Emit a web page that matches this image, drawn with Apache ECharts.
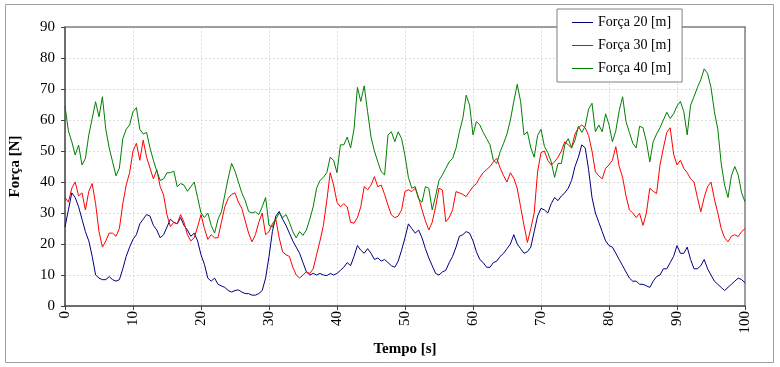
<!DOCTYPE html>
<html>
<head>
<meta charset="utf-8">
<script src="https://cdn.jsdelivr.net/npm/echarts@6/dist/echarts.min.js"></script>
<style>
html,body{margin:0;padding:0;background:#fff;}
#chart{width:780px;height:367px;}
</style>
</head>
<body>
<div id="chart"></div>
<script>
// time grid (s), 0.5 s steps
var times = [];
for (var i = 0; i <= 200; i++) { times.push(i * 0.5); }

var seriesNames = ['Força 20 [m]', 'Força 30 [m]', 'Força 40 [m]'];
var xTicks = [0, 10, 20, 30, 40, 50, 60, 70, 80, 90, 100];
var yTicks = [0, 10, 20, 30, 40, 50, 60, 70, 80, 90];

var forca20 = [
  25.5,31,36.5,35,32,28,24,21,16,10,
  9,8.5,8.5,9.5,8.5,8,8.5,12,16,19,
  21.5,23,26.5,28,29.5,29,26,24.5,22,23,
  25.5,28,27,26.5,28.5,26,24.5,22.5,23.5,21,
  16.5,13.5,9,8,9,7,6.5,6,5,4.5,
  5,5.2,4.5,4,4,3.5,3.5,4,5,9,
  16,24,29,30.5,28,26,23.5,21,19,17,
  14,11,10,10.5,10,10.5,10,9.8,10.5,10,
  10.5,11.5,12.5,14,13,16,19.5,18,17,18.5,
  17,15,15.5,14.5,15,14,13,12.5,14.5,18,
  22,26.5,25,23.5,24.5,22,18.5,15.5,13,10.5,
  10,11,11.5,14,16,19,22.5,23,24,23.5,
  21,17.5,15,14,12.5,12.5,14,14.5,16,17,
  18.5,20,23,20,18.5,17,17.5,19,24,29,
  31.5,31,30,33,35,34,35.5,36.5,38,40.5,
  45,48,52,51,44,35,30,27,24,21,
  19.5,19,17,15,13,11,9,8,8,7,
  7,6.5,6,8,9.5,10,12,12,14,16,
  19.5,17,17,19,15,12,12,13,15,12,
  10,8,7,6,5,6,7,8,9,8.5,
  7.5
];

var forca30 = [
  35,33.5,38,40,35.5,36.5,31,37,39.5,33,
  24,19,21,23.5,23.5,22.5,25,33,39,43,
  50,52.5,47,53.5,48,44.5,41,44,38.5,35.8,
  29.4,25.6,27,26.5,29.5,27,23,21,22,25.5,
  29.5,25,21.5,23,22,22,27,32,34.7,36,
  36.5,33.5,31.5,27.5,23.5,20.7,23,27,30,23,
  24,26.5,28,22,17.5,16.5,16,12.5,10,9,
  10,11,10.5,12,16.5,21,26,34,43,39,
  33.5,32,33,32,27,26.7,28.5,32,38.5,37.5,
  39,41.7,38.5,39,36,32.5,29.4,28.5,29,31,
  37,37.5,36.9,38,35,31,27.5,24.5,27,32,
  38,37.4,27.2,28.5,31,36.9,36.5,36,35.3,37,
  38.5,39.5,41.5,43,44,45,46.5,47.6,44.5,42,
  40,43,41.2,38,32,26,20.5,25,30,43.3,
  49.5,50,47,45.5,46.5,48,50,53,52,51,
  55.5,57.5,58.4,57.5,55,50,43.3,42,41,44.4,
  45.5,47,51.4,45,41.5,35.5,31,30,28.5,29.9,
  26,30,38,37,36.3,45.5,51,56,57.5,49,
  45.5,47,44.4,43,41,40,35,30.4,35,38.5,
  40,34.5,30,25,22,20.7,22.5,23,22.4,24,
  25
];

var forca40 = [
  64.5,56.5,53,48.7,51.9,45.5,47.6,55.2,60.5,65.9,
  61,67.5,57,51,46.5,42,44.5,54,57,58.4,
  62.7,64,57,55.5,56,51,47,43.5,40.5,41,
  43,43,43.5,38.5,39.5,39,37,38.5,40,35,
  30,28.5,30,26,23.5,28,30.4,35.8,41.2,46,
  43.5,40,36.5,34,30.5,30,30.4,29.5,32,35,
  26,25.5,28,30,28.5,29.5,27,24,22,24,
  22.8,24.5,28,32,38,40.5,41.5,43,48,47,
  43,52,52,54.5,51,57,70.5,66,71,62.7,
  54.5,50,46.5,43.3,42.3,55.2,56.2,53,56.2,54,
  48.5,41.5,38,38.5,34.5,33.5,38.5,38,31,35.5,
  40.5,42.3,44.4,46.5,47.6,50.9,56.2,60.5,68,64.8,
  55.2,59.5,58.4,56,54,52,47,46,49.8,52.5,
  55.5,60,66,71.5,66,55.2,56.2,51,48,55,
  57,51.5,49.5,46.5,41.5,46,46,52,54,51,
  53.5,58,56,58,63.5,65.4,56.2,58.4,56.2,62,
  58.5,53,56.5,63,67.5,59.5,56,52.5,51,58,
  57.5,53,46.5,53,55.5,57.5,60,62.5,60.5,62,
  64.5,66,62.7,55.2,64.8,67.5,70.5,73,76.5,75,
  70.5,62.7,57,46,39,35,42,45,42.3,36.5,
  33.6
];

var colors = ['#000080', '#ff0000', '#008000'];
var serif = '"Liberation Serif", "Times New Roman", serif';

function pairs(vals) {
  return vals.map(function (v, i) { return [times[i], v]; });
}

var hiddenAxisParts = {
  axisTick: { show: false }, axisLabel: { show: false }, splitLine: { show: false }
};

var chart = echarts.init(document.getElementById('chart'), null, { renderer: 'canvas' });
chart.setOption({
  animation: false,
  backgroundColor: '#ffffff',
  textStyle: { fontFamily: serif },
  graphic: [{
    type: 'rect',
    shape: { x: 5.5, y: 4.5, width: 768, height: 358 },
    style: { fill: 'none', stroke: '#a0a0a0', lineWidth: 1 },
    z: -1
  }],
  grid: {
    left: 65, right: 35, top: 27, bottom: 61,
    show: true, borderColor: '#808080', borderWidth: 0,
    backgroundColor: '#ffffff'
  },
  legend: {
    orient: 'vertical',
    left: 557, top: 9,
    padding: [6, 11, 6, 15],
    icon: 'rect',
    itemWidth: 21, itemHeight: 1, itemGap: 8,
    backgroundColor: '#ffffff',
    borderColor: '#808080', borderWidth: 1,
    textStyle: { fontFamily: serif, fontSize: 14, color: '#000', lineHeight: 15 },
    data: seriesNames,
    z: 10
  },
  xAxis: [{
    type: 'value',
    min: xTicks[0], max: xTicks[xTicks.length - 1], interval: 10,
    name: 'Tempo [s]', nameLocation: 'middle', nameGap: 36,
    nameTextStyle: { fontFamily: serif, fontSize: 15, fontWeight: 'bold', color: '#000' },
    axisLine: { show: true, lineStyle: { color: '#404040', width: 1.5 } },
    axisTick: { show: true, length: 4, lineStyle: { color: '#404040' } },
    axisLabel: { rotate: 90, margin: 5, fontSize: 15, color: '#000', fontFamily: serif },
    splitLine: { show: true, lineStyle: { color: '#dcdcdc', type: [2, 2], width: 1 } }
  }, Object.assign({
    type: 'value', position: 'top',
    min: xTicks[0], max: xTicks[xTicks.length - 1], interval: 10,
    axisLine: { show: true, onZero: false, lineStyle: { color: '#808080', width: 1.5 } }
  }, hiddenAxisParts)],
  yAxis: [{
    type: 'value',
    min: yTicks[0], max: yTicks[yTicks.length - 1], interval: 10,
    name: 'Força [N]', nameLocation: 'middle', nameGap: 42, nameRotate: 90,
    nameTextStyle: { fontFamily: serif, fontSize: 15, fontWeight: 'bold', color: '#000' },
    axisLine: { show: true, lineStyle: { color: '#404040', width: 1.5 } },
    axisTick: { show: true, length: 4, lineStyle: { color: '#404040' } },
    axisLabel: { margin: 10, fontSize: 15, color: '#000', fontFamily: serif },
    splitLine: { show: true, lineStyle: { color: '#dcdcdc', type: [2, 2], width: 1 } }
  }, Object.assign({
    type: 'value', position: 'right',
    min: yTicks[0], max: yTicks[yTicks.length - 1], interval: 10,
    axisLine: { show: true, onZero: false, lineStyle: { color: '#808080', width: 1.5 } }
  }, hiddenAxisParts)],
  series: [
    { name: seriesNames[0], type: 'line', data: pairs(forca20), symbol: 'none', showSymbol: false,
      lineStyle: { color: colors[0], width: 1 }, itemStyle: { color: colors[0] } },
    { name: seriesNames[1], type: 'line', data: pairs(forca30), symbol: 'none', showSymbol: false,
      lineStyle: { color: colors[1], width: 1 }, itemStyle: { color: colors[1] } },
    { name: seriesNames[2], type: 'line', data: pairs(forca40), symbol: 'none', showSymbol: false,
      lineStyle: { color: colors[2], width: 1 }, itemStyle: { color: colors[2] } }
  ]
});
</script>
</body>
</html>
